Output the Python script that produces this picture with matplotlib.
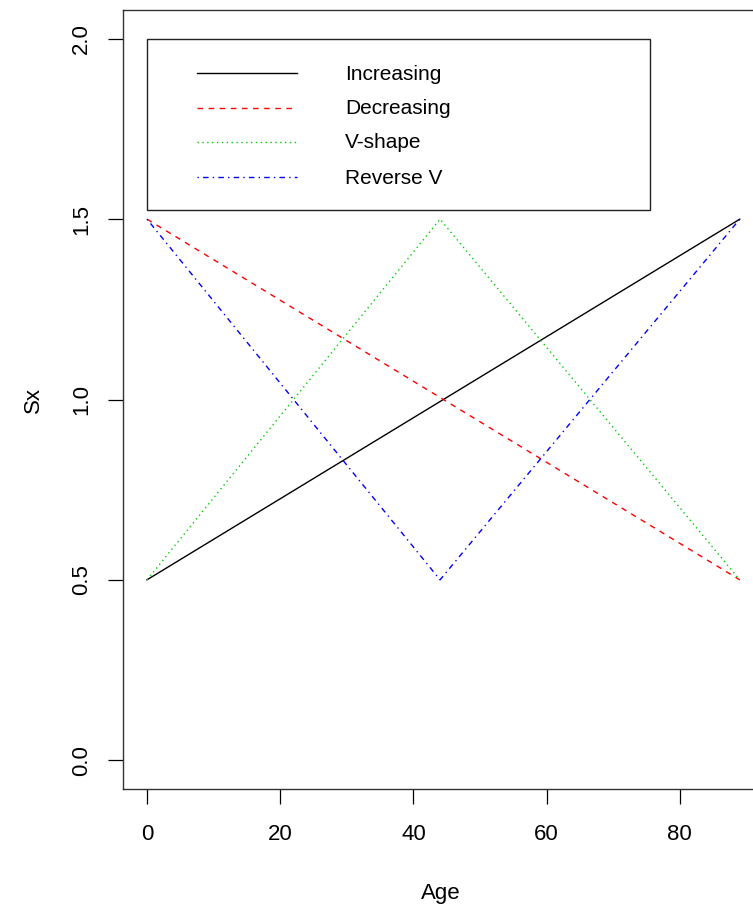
import matplotlib
matplotlib.use("Agg")
import numpy as np
import matplotlib.pyplot as plt
from matplotlib.patches import Rectangle

plt.rcParams['font.family'] = ['Liberation Sans', 'DejaVu Sans']

# ages 0..89, turning point at 44
age = np.arange(0, 90)
age_ends = [0, 89]
age_mid = [0, 44, 89]

increasing = [0.5, 1.5]
decreasing = [1.5, 0.5]
v_shape = [0.5, 1.5, 0.5]
reverse_v = [1.5, 0.5, 1.5]

labels = ["Increasing", "Decreasing", "V-shape", "Reverse V"]
colors = ["black", "#FF0000", "#00CD00", "#0000FF"]
styles = ["-", (0, (4, 4)), (0, (1, 2.5)), (0, (1, 3, 4, 3))]

W, H = 753, 911
fig = plt.figure(figsize=(W / 100, H / 100), dpi=100)

# R-style axis ranges (4% padding)
xlo, xhi = -3.56, 92.56
ylo, yhi = -0.08, 2.08
px_x = 6.66
ax_left = 123.3
ax_w = (xhi - xlo) * px_x
ax_bottom = H - 789
ax_h = 779
ax = fig.add_axes([ax_left / W, ax_bottom / H, ax_w / W, ax_h / H])

ax.plot(age, np.interp(age, age_ends, increasing), color=colors[0], ls=styles[0], lw=1)
ax.plot(age, np.interp(age, age_ends, decreasing), color=colors[1], ls=styles[1], lw=1)
ax.plot(age, np.interp(age, age_mid, v_shape), color=colors[2], ls=styles[2], lw=1)
ax.plot(age, np.interp(age, age_mid, reverse_v), color=colors[3], ls=styles[3], lw=1)

ax.set_xlim(xlo, xhi)
ax.set_ylim(ylo, yhi)
ax.set_xticks([0, 20, 40, 60, 80])
ax.set_yticks([0.0, 0.5, 1.0, 1.5, 2.0])
ax.set_yticklabels(["0.0", "0.5", "1.0", "1.5", "2.0"], rotation=90, va="center")
ax.tick_params(direction="out", length=11, width=0.9, labelsize=16, pad=14)
ax.tick_params(axis="y", pad=11.5)
for s in ax.spines.values():
    s.set_linewidth(1.0)
    s.set_color("#333333")

fig.text(441 / W, 1 - 893 / H, "Age", ha="center", va="center", fontsize=16)
fig.text(33 / W, 1 - 400 / H, "Sx", ha="center", va="center", fontsize=16, rotation=90)

# legend box, R style
def fx(p):
    return (p - ax_left) / ax_w

def fy(p):
    return (H - p - ax_bottom) / ax_h

ax.add_patch(Rectangle((fx(147), fy(210)), fx(650) - fx(147), fy(39) - fy(210),
                       transform=ax.transAxes, fill=False, lw=1.0, ec="#222222"))
rows = [73, 108, 142, 177]
for lab, c, st, r in zip(labels, colors, styles, rows):
    ax.plot([fx(197), fx(297)], [fy(r), fy(r)], transform=ax.transAxes,
            color=c, ls=st, lw=1)
    ax.text(fx(345), fy(r + 1), lab, transform=ax.transAxes, fontsize=15,
            va="center", ha="left")

fig.savefig("out.png", dpi=100)
